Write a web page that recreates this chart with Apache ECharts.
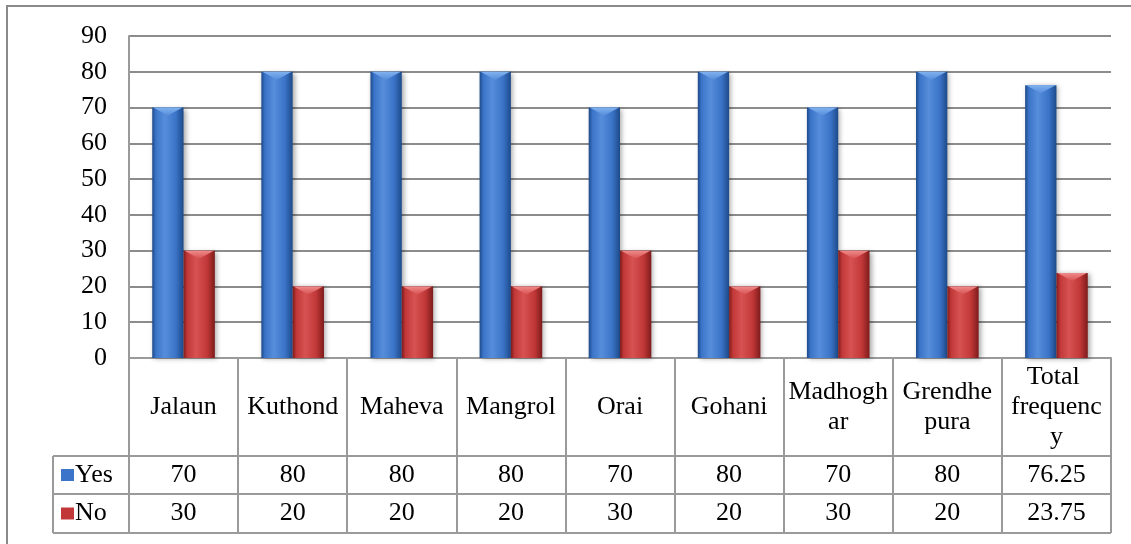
<!DOCTYPE html>
<html>
<head>
<meta charset="utf-8">
<script src="https://cdn.jsdelivr.net/npm/echarts@6/dist/echarts.min.js"></script>
<style>
  html, body { margin: 0; padding: 0; background: #fff; }
  #chart { width: 1131px; height: 544px; }
</style>
</head>
<body>
<div id="chart"></div>
<script>
// Village names and the share of answers per village
const categories = ['Jalaun', 'Kuthond', 'Maheva', 'Mangrol', 'Orai', 'Gohani', 'Madhoghar', 'Grendhepura', 'Total frequency'];
const yesValues = [70, 80, 80, 80, 70, 80, 70, 80, 76.25];
const noValues = [30, 20, 20, 20, 30, 20, 30, 20, 23.75];
const seriesNames = ['Yes', 'No'];
const yTicks = { min: 0, max: 90, interval: 10 };

const FONT = '"Liberation Serif", "Times New Roman", serif';
const FONT_SIZE = 26;
const LINE = '#9a9a9a';

// Layout of the plot and the data table beneath it
const G = { left: 129, right: 1111, top: 36, axisY: 358, rowYes: 456, rowNo: 494, rowEnd: 533, legendLeft: 53 };

const palette = {
  Yes: { dark: '#1d4a8a', mid: '#3b74c8', light: '#578edb', cap: '#80b1ef' },
  No: { dark: '#7e1b1b', mid: '#c23838', light: '#d75252', cap: '#f08a8a' }
};

function barGradient(c) {
  return new echarts.graphic.LinearGradient(0, 0, 1, 0, [
    { offset: 0, color: c.dark },
    { offset: 0.12, color: c.mid },
    { offset: 0.4, color: c.light },
    { offset: 0.75, color: c.mid },
    { offset: 1, color: c.dark }
  ]);
}

function capGradient(c) {
  return new echarts.graphic.LinearGradient(0, 0, 0, 1, [
    { offset: 0, color: c.cap },
    { offset: 1, color: c.light }
  ]);
}

// Cylinder-like column: shaded body plus a lighter chevron on top
function columnSeries(name, values, side) {
  const c = palette[name];
  return {
    type: 'custom',
    name: name,
    data: values.map((v, i) => [i, v]),
    encode: { x: 0, y: 1 },
    itemStyle: { color: c.mid },
    renderItem: function (params, api) {
      const i = api.value(0);
      const v = api.value(1);
      const base = api.coord([i, 0]);
      const top = api.coord([i, v]);
      const band = api.size([1, 0])[0];
      const w = band * 0.287;
      const x0 = side < 0 ? base[0] - w : base[0];
      const h = base[1] - top[1];
      const cap = Math.min(8, h);
      return {
        type: 'group',
        children: [
          {
            type: 'rect',
            shape: { x: x0, y: top[1], width: w, height: h },
            style: { fill: barGradient(c), shadowBlur: 5, shadowOffsetX: 2, shadowOffsetY: 1, shadowColor: 'rgba(0,0,0,0.35)' }
          },
          {
            type: 'polygon',
            shape: { points: [[x0 + 1, top[1]], [x0 + w - 1, top[1]], [x0 + w / 2, top[1] + cap]] },
            style: { fill: capGradient(c) }
          }
        ]
      };
    }
  };
}

const chart = echarts.init(document.getElementById('chart'), null, { renderer: 'canvas' });

const tableLabel = {
  interval: 0,
  fontFamily: FONT,
  fontSize: FONT_SIZE,
  color: '#000',
  verticalAlign: 'middle',
  align: 'center'
};

const option = {
  animation: false,
  backgroundColor: '#fff',
  grid: { left: G.left, right: 1131 - G.right, top: G.top, bottom: 544 - G.axisY },
  legend: {
    orient: 'vertical',
    left: 61,
    top: 462,
    padding: 0,
    itemWidth: 13,
    itemHeight: 12,
    itemGap: 12.5,
    icon: 'rect',
    data: seriesNames,
    textStyle: { fontFamily: FONT, fontSize: FONT_SIZE, color: '#000', padding: [0, 0, 0, -4] }
  },
  xAxis: [
    {
      type: 'category',
      data: categories,
      axisLine: { show: true, lineStyle: { color: LINE, width: 2 } },
      axisTick: { show: true, length: G.rowEnd - G.axisY, lineStyle: { color: LINE, width: 2 } },
      axisLabel: Object.assign({}, tableLabel, { margin: (G.rowYes - G.axisY) / 2, width: 101, overflow: 'break', lineHeight: 30 }),
      splitLine: { show: false }
    },
    {
      type: 'category',
      data: categories,
      position: 'bottom',
      axisLine: { show: false },
      axisTick: { show: false },
      axisLabel: Object.assign({}, tableLabel, {
        margin: (G.rowYes + G.rowNo) / 2 - G.axisY,
        formatter: (val, idx) => String(yesValues[idx])
      })
    },
    {
      type: 'category',
      data: categories,
      position: 'bottom',
      axisLine: { show: false },
      axisTick: { show: false },
      axisLabel: Object.assign({}, tableLabel, {
        margin: (G.rowNo + G.rowEnd) / 2 - G.axisY,
        formatter: (val, idx) => String(noValues[idx])
      })
    }
  ],
  yAxis: {
    type: 'value',
    min: yTicks.min,
    max: yTicks.max,
    interval: yTicks.interval,
    axisLine: { show: true, lineStyle: { color: LINE, width: 2 } },
    axisTick: { show: false },
    axisLabel: { fontFamily: FONT, fontSize: FONT_SIZE, color: '#000', margin: 22 },
    splitLine: { show: true, lineStyle: { color: '#8c8c8c', width: 2 } }
  },
  series: [
    columnSeries('Yes', yesValues, -1),
    columnSeries('No', noValues, 1)
  ],
  graphic: [
    // outer chart frame
    { type: 'rect', silent: true, shape: { x: 7, y: 6, width: 1200, height: 700 }, style: { fill: null, stroke: '#8a8a8a', lineWidth: 2 } },
    // data table rows
    { type: 'line', silent: true, shape: { x1: G.legendLeft, y1: G.rowYes, x2: G.right, y2: G.rowYes }, style: { stroke: LINE, lineWidth: 2 } },
    { type: 'line', silent: true, shape: { x1: G.legendLeft, y1: G.rowNo, x2: G.right, y2: G.rowNo }, style: { stroke: LINE, lineWidth: 2 } },
    { type: 'line', silent: true, shape: { x1: G.legendLeft, y1: G.rowEnd, x2: G.right, y2: G.rowEnd }, style: { stroke: LINE, lineWidth: 2 } },
    { type: 'line', silent: true, shape: { x1: G.legendLeft, y1: G.rowYes, x2: G.legendLeft, y2: G.rowEnd }, style: { stroke: LINE, lineWidth: 2 } }
  ]
};

chart.setOption(option);
</script>
</body>
</html>
